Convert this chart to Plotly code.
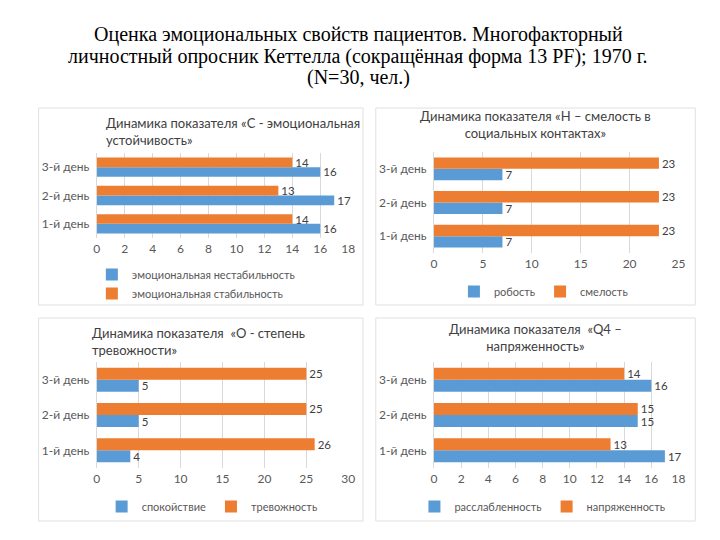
import plotly.graph_objects as go

days = ["1-й день", "2-й день", "3-й день"]

c_unstable = [16, 17, 16]
c_stable = [14, 13, 14]
h_shy = [7, 7, 7]
h_bold = [23, 23, 23]
o_calm = [4, 5, 5]
o_anx = [26, 25, 25]
q4_relax = [17, 15, 16]
q4_tense = [13, 15, 14]

main_title = [
    "Оценка эмоциональных свойств пациентов. Многофакторный",
    "личностный опросник Кеттелла (сокращённая форма 13 PF); 1970 г.",
    "(N=30, чел.)",
]

BLUE = "#5B9BD5"
ORANGE = "#ED7D31"
TXT = "#595959"
FONT = "Lato"

# page body has an 8px default margin; the figure is sized to fit the window
OFF = 8
W, H = 720 - OFF, 540 - OFF

def px(x):
    return (x - OFF) / W

def py(y):
    return 1 - (y - OFF) / H

panels = [
    dict(s=[("эмоциональная нестабильность", c_unstable, BLUE), ("эмоциональная стабильность", c_stable, ORANGE)],
         xd=(95, 350), yd=(153, 238), xmax=18, dtick=2,
         title="Динамика показателя «С - эмоциональная<br>устойчивость»", tx=102, ty=113, talign="left",
         leg=dict(x=90, y=260, orient="v", xanchor="left")),
    dict(s=[("робость", h_shy, BLUE), ("смелость", h_bold, ORANGE)],
         xd=(437, 685), yd=(152, 253), xmax=25, dtick=5,
         title="Динамика показателя «Н – смелость в<br>социальных контактах»", tx=540, ty=106, talign="center",
         leg=dict(x=548, y=277, orient="h", xanchor="center")),
    dict(s=[("спокойствие", o_calm, BLUE), ("тревожность", o_anx, ORANGE)],
         xd=(95, 350), yd=(362, 468), xmax=30, dtick=5,
         title="Динамика показателя  «О - степень<br>тревожности»", tx=88, ty=323, talign="left",
         leg=dict(x=212, y=492, orient="h", xanchor="center")),
    dict(s=[("расслабленность", q4_relax, BLUE), ("напряженность", q4_tense, ORANGE)],
         xd=(437, 685), yd=(362, 468), xmax=18, dtick=2,
         title="Динамика показателя  «Q4 –<br>напряженность»", tx=540, ty=319, talign="center",
         leg=dict(x=547, y=492, orient="h", xanchor="center")),
]

fig = go.Figure()
layout = dict(
    width=W, height=H, margin=dict(l=0, r=0, t=0, b=0),
    paper_bgcolor="white", plot_bgcolor="white",
    barmode="group", bargap=0.32, bargroupgap=0,
    font=dict(family=FONT, color=TXT, size=11),
    shapes=[], annotations=[],
)

boxes = [(36, 108, 365, 305), (378, 108, 702, 305), (36, 318, 365, 521), (378, 318, 702, 521)]
for (x0, y0, x1, y1) in boxes:
    layout["shapes"].append(dict(type="rect", xref="paper", yref="paper",
                                 x0=px(x0), x1=px(x1), y0=py(y1), y1=py(y0),
                                 line=dict(color="#E0E0E0", width=1), fillcolor="rgba(0,0,0,0)", layer="below"))

for i, p in enumerate(panels):
    n = "" if i == 0 else str(i + 1)
    xa, ya = "x" + n, "y" + n
    lg = "legend" if i == 0 else "legend" + str(i + 1)
    for name, vals, col in p["s"]:
        fig.add_trace(go.Bar(
            y=days, x=vals, name=name, orientation="h",
            marker=dict(color=col, line=dict(width=0)),
            text=[str(v) for v in vals], textposition="outside",
            constraintext="none",
            textfont=dict(family=FONT, size=11.5, color="#404040"),
            cliponaxis=False, xaxis=xa, yaxis=ya, legend=lg,
        ))
    layout["xaxis" + n] = dict(
        domain=[px(p["xd"][0]), px(p["xd"][1])], anchor=ya,
        range=[0, p["xmax"]], dtick=p["dtick"], tick0=0,
        showgrid=True, gridcolor="#D9D9D9", gridwidth=1,
        zeroline=False, showline=False, ticks="",
        tickfont=dict(family=FONT, size=12, color=TXT), fixedrange=True,
        ticklabelstandoff=2,
    )
    layout["yaxis" + n] = dict(
        domain=[py(p["yd"][1]), py(p["yd"][0])], anchor=xa,
        type="category", categoryorder="array", categoryarray=days,
        range=[-0.5, 2.5], showgrid=False, zeroline=False,
        showline=True, linecolor="#D9D9D9", ticks="",
        tickfont=dict(family=FONT, size=12, color=TXT), ticklabelstandoff=4,
    )
    L = p["leg"]
    layout[lg] = dict(
        x=px(L["x"]), y=py(L["y"]), xref="paper", yref="paper",
        xanchor=L["xanchor"], yanchor="top",
        orientation=L["orient"], bgcolor="rgba(0,0,0,0)",
        font=dict(family=FONT, size=11, color=TXT),
        itemwidth=30, tracegroupgap=0, traceorder="normal",
        itemclick=False,
    )
    layout["annotations"].append(dict(
        text=p["title"], x=px(p["tx"]), y=py(p["ty"]), xref="paper", yref="paper",
        xanchor="left" if p["talign"] == "left" else "center", yanchor="top",
        align=p["talign"], showarrow=False,
        font=dict(family=FONT, size=13, color="#404040"),
    ))

for line, yc in zip(main_title, [34, 56, 78]):
    layout["annotations"].append(dict(
        text=line, x=px(360), y=py(yc), xref="paper", yref="paper",
        xanchor="center", yanchor="middle", showarrow=False,
        font=dict(family="Liberation Serif", size=20, color="black"),
    ))

fig.update_layout(**layout)
fig.write_html("out.html")
